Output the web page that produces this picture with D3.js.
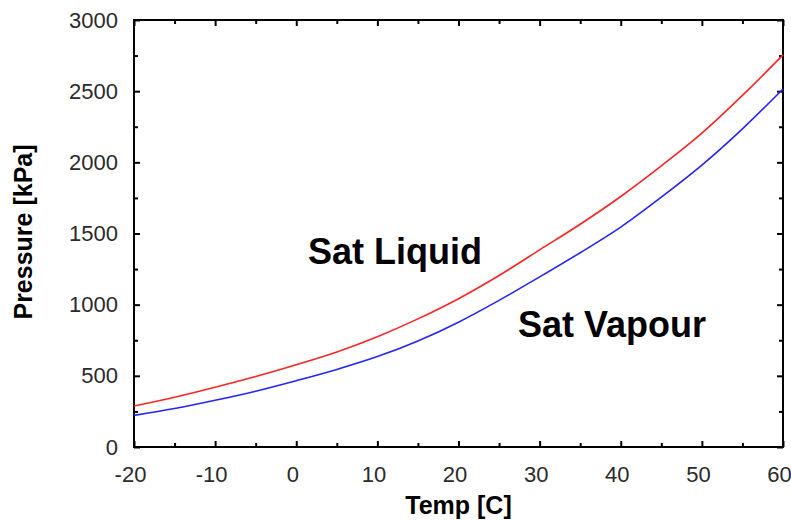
<!DOCTYPE html>
<html>
<head>
<meta charset="utf-8">
<script src="https://cdn.jsdelivr.net/npm/d3@7"></script>
<style>
  body { margin: 0; background: #fff; }
  .tick-label { font-family: Arial, "Liberation Sans", sans-serif; font-size: 22px; fill: #2a2a2a; }
  .axis-title { font-family: Arial, "Liberation Sans", sans-serif; font-size: 25px; font-weight: bold; fill: #000; }
  .note { font-family: Arial, "Liberation Sans", sans-serif; font-size: 36px; font-weight: bold; fill: #000; }
</style>
</head>
<body>
<div id="chart"></div>
<script>
// data
const temps = [-20, -15, -10, -5, 0, 5, 10, 15, 20, 25, 30, 35, 40, 45, 50, 55, 60];
const satLiquid = [288, 350, 420, 495, 578, 668, 775, 900, 1042, 1205, 1385, 1565, 1760, 1975, 2205, 2470, 2755];
const satVapour = [222, 270, 328, 392, 466, 545, 635, 745, 877, 1030, 1195, 1365, 1545, 1755, 1980, 2235, 2515];
const xTicks = [-20, -10, 0, 10, 20, 30, 40, 50, 60];
const xMinor = [-15, -5, 5, 15, 25, 35, 45, 55];
const yTicks = [0, 500, 1000, 1500, 2000, 2500, 3000];
const yMinor = [250, 750, 1250, 1750, 2250, 2750];

// chart setup
let margin = { top: 20, right: 8, bottom: 73, left: 134 };
let totalW = 791, totalH = 520;
let width = totalW - margin.left - margin.right;
let height = totalH - margin.top - margin.bottom;

let x = d3.scaleLinear().domain([-20, 60]).range([0, width]);
let y = d3.scaleLinear().domain([0, 3000]).range([height, 0]);
let plain = d => String(d);

let svg = d3.select('#chart').append('svg')
  .attr('width', totalW)
  .attr('height', totalH);
let group = svg.append('g').attr('transform', `translate(${margin.left}, ${margin.top})`);

function styleAxis(g) {
  g.select('.domain').remove();
  g.selectAll('line').attr('stroke', '#000').attr('stroke-width', 2);
}

// major + minor ticks on all four sides, pointing inward
group.append('g').attr('transform', `translate(0, ${height})`)
  .call(d3.axisBottom(x).tickValues(xTicks).tickSize(-6).tickPadding(19).tickFormat(plain))
  .call(styleAxis)
  .selectAll('text').attr('class', 'tick-label').attr('dx', -4);
group.append('g').attr('transform', `translate(0, ${height})`)
  .call(d3.axisBottom(x).tickValues(xMinor).tickSize(-4).tickFormat(''))
  .call(styleAxis);
group.append('g')
  .call(d3.axisTop(x).tickValues(xTicks).tickSize(-6).tickFormat(''))
  .call(styleAxis);
group.append('g')
  .call(d3.axisTop(x).tickValues(xMinor).tickSize(-4).tickFormat(''))
  .call(styleAxis);

group.append('g')
  .call(d3.axisLeft(y).tickValues(yTicks).tickSize(-6).tickPadding(16).tickFormat(plain))
  .call(styleAxis)
  .selectAll('text').attr('class', 'tick-label');
group.append('g')
  .call(d3.axisLeft(y).tickValues(yMinor).tickSize(-4).tickFormat(''))
  .call(styleAxis);
group.append('g').attr('transform', `translate(${width}, 0)`)
  .call(d3.axisRight(y).tickValues(yTicks).tickSize(-6).tickFormat(''))
  .call(styleAxis);
group.append('g').attr('transform', `translate(${width}, 0)`)
  .call(d3.axisRight(y).tickValues(yMinor).tickSize(-4).tickFormat(''))
  .call(styleAxis);

// let the css classes set the font
group.selectAll('g').attr('font-family', null).attr('font-size', null);

// frame
group.append('rect')
  .attr('width', width)
  .attr('height', height)
  .attr('fill', 'none')
  .attr('stroke', '#000')
  .attr('stroke-width', 2);

// curves
const line = d3.line().curve(d3.curveMonotoneX);
const series = [
  { values: satLiquid, color: '#ff2424' },
  { values: satVapour, color: '#2424ff' }
];
group.selectAll('path.curve')
  .data(series)
  .enter()
  .append('path')
  .attr('class', 'curve')
  .attr('fill', 'none')
  .attr('stroke', d => d.color)
  .attr('stroke-width', 1.6)
  .attr('d', d => line(temps.map((t, i) => [x(t), y(d.values[i])])));

// annotations
svg.append('text').attr('class', 'note').attr('x', 308).attr('y', 264).text('Sat Liquid');
svg.append('text').attr('class', 'note').attr('x', 518).attr('y', 337).text('Sat Vapour');

// axis titles
svg.append('text')
  .attr('class', 'axis-title')
  .attr('text-anchor', 'middle')
  .attr('x', margin.left + width / 2)
  .attr('y', 514)
  .text('Temp [C]');

svg.append('text')
  .attr('class', 'axis-title')
  .attr('text-anchor', 'middle')
  .attr('transform', 'translate(32, 232) rotate(-90)')
  .text('Pressure [kPa]');
</script>
</body>
</html>
